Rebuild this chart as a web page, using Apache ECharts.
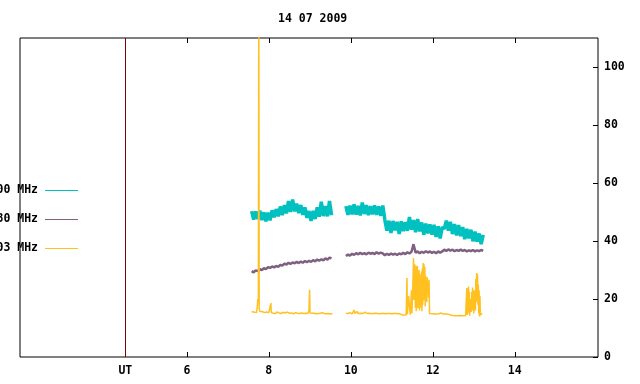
<!DOCTYPE html>
<html>
<head>
<meta charset="utf-8">
<script src="https://cdn.jsdelivr.net/npm/echarts@6/dist/echarts.min.js"></script>
<style>
  html, body { margin: 0; padding: 0; background: #fff; }
  #chart { width: 640px; height: 384px; }
</style>
</head>
<body>
<div id="chart"></div>
<script>
'use strict';

// --- Data (UT hours, values) ---
var TITLE = '14 07 2009';
var SERIES_NAMES = ['00 MHz', '80 MHz', '03 MHz'];
var X_TICKS = [6, 8, 10, 12, 14];
var X_LABELS = [4.5, 6, 8, 10, 12, 14];
var UT_MARK = 4.5;
var Y_TICKS = [0, 20, 40, 60, 80, 100];

// teal + purple share one sampling grid, null = no data
var GRID_T0 = 7.58;
var GRID_STEP = 0.05;

var teal = [
  50.3, 47.4, 50.2, 47.6, 50.5, 47.2, 49.9, 46.8, 49.8, 47.1,
  50.6, 48.2, 51.0, 48.5, 51.9, 48.9, 52.4, 49.5, 53.8, 50.0,
  54.3, 50.2, 52.9, 49.6, 52.4, 49.0, 51.6, 48.0, 50.3, 46.9,
  50.4, 47.6, 51.6, 48.4, 53.5, 48.6, 52.0, 48.5, 53.8, 48.9,
  null, null, null, null, null, null,
  52.0, 49.0, 52.2, 49.2, 52.6, 49.1, 52.1, 48.8, 53.3, 49.3,
  52.4, 48.9, 52.0, 49.2, 52.3, 49.0, 51.9, 48.7, 52.2,
  47.3, 43.6, 47.0, 42.8, 46.9, 43.7, 46.6, 42.4, 46.8, 43.4,
  46.5, 43.5, 48.3, 43.9, 47.2, 43.0, 47.6, 43.3, 46.4, 42.2,
  46.0, 42.6, 45.7, 42.2, 45.6, 41.4, 45.1, 40.9, 44.8, 44.2,
  47.0, 43.6, 46.6, 42.4, 45.8, 41.9, 45.5, 41.7, 44.8, 40.6,
  44.2, 40.9, 43.9, 39.9, 43.2, 39.8, 42.6, 38.9, 42.1
];

var purple = [
  29.6, 29.2, 29.9, 29.6, 30.3, 30.0, 30.6, 30.3, 31.0, 30.7,
  31.2, 30.9, 31.4, 31.1, 31.8, 31.5, 32.2, 31.9, 32.5, 32.1,
  32.6, 32.3, 32.8, 32.4, 32.9, 32.5, 33.1, 32.7, 33.2, 32.8,
  33.4, 33.0, 33.6, 33.2, 33.7, 33.3, 34.0, 33.6, 34.3, 34.0,
  null, null, null, null, null, null,
  34.8, 35.3, 35.0, 35.6, 35.2, 35.8, 35.4, 35.9, 35.5, 35.8,
  35.4, 36.0, 35.6, 35.9, 35.5, 36.1, 35.6, 36.0, 35.7,
  35.1, 35.6, 35.2, 35.7, 35.3, 35.6, 35.2, 35.7, 35.4, 35.9,
  35.5, 36.1, 35.7, 36.3, 38.9, 36.0, 36.4, 35.8, 36.3, 35.9,
  36.5, 36.0, 36.4, 35.9, 36.3, 35.8, 36.4, 36.0, 36.4, 37.0,
  36.6, 37.1, 36.7, 37.0, 36.5, 36.9, 36.6, 37.0, 36.6, 36.9,
  36.4, 36.8, 36.5, 36.9, 36.4, 36.8, 36.5, 36.9, 36.6
];

// yellow has its own [t, v] samples (spiky)
var yellow = [
  [7.58, 15.6], [7.60, 15.0], [7.63, 15.5], [7.66, 15.1], [7.70, 15.3], [7.72, 17.5],
  [7.73, 20.0], [7.745, 19.0], [7.755, 125], [7.765, 16.5], [7.78, 15.8], [7.80, 15.2],
  [7.85, 15.6], [7.90, 15.3], [7.95, 15.5], [8.00, 15.3], [8.04, 15.4], [8.05, 18.6],
  [8.06, 15.3], [8.10, 15.2], [8.15, 14.9], [8.20, 15.5], [8.25, 15.2], [8.30, 15.0],
  [8.35, 15.4], [8.40, 15.2], [8.45, 15.5], [8.50, 15.1], [8.55, 15.2], [8.60, 14.9],
  [8.65, 15.3], [8.70, 15.1], [8.75, 15.0], [8.80, 15.2], [8.85, 15.0], [8.90, 15.1],
  [8.95, 15.0], [8.98, 16.0], [8.995, 23.2], [9.005, 15.2], [9.05, 15.0], [9.10, 15.1],
  [9.15, 14.9], [9.20, 15.0], [9.25, 15.0], [9.30, 15.3], [9.35, 15.0], [9.40, 14.9],
  [9.45, 15.0], [9.50, 14.8], [9.55, 15.0], [9.70, null],
  [9.88, 15.1], [9.93, 15.0], [9.98, 15.3], [10.03, 14.9], [10.08, 16.2], [10.10, 15.0],
  [10.15, 15.7], [10.18, 15.0], [10.25, 15.1], [10.30, 15.0], [10.35, 15.5], [10.40, 15.0],
  [10.45, 15.1], [10.50, 14.9], [10.55, 15.0], [10.60, 15.1], [10.65, 15.0], [10.70, 14.9],
  [10.75, 15.0], [10.80, 15.0], [10.85, 14.9], [10.90, 15.0], [10.95, 15.0], [11.00, 14.9],
  [11.05, 15.0], [11.10, 15.0], [11.15, 14.9], [11.20, 14.9], [11.25, 14.5], [11.30, 14.5],
  [11.35, 14.5], [11.36, 14.6], [11.37, 27.2], [11.38, 14.8], [11.40, 14.6], [11.41, 21.0],
  [11.44, 21.0], [11.45, 14.6], [11.47, 14.6], [11.48, 23.0], [11.49, 15.0], [11.52, 15.0],
  [11.525, 30.5], [11.53, 34.1], [11.54, 19.7], [11.55, 32.0], [11.56, 22.0], [11.565, 31.8],
  [11.575, 17.0], [11.585, 30.5], [11.595, 15.8], [11.605, 31.5], [11.615, 20.0], [11.625, 31.3],
  [11.635, 16.8], [11.645, 29.0], [11.655, 20.5], [11.665, 30.0], [11.675, 16.0], [11.685, 28.5],
  [11.695, 19.0], [11.705, 27.0], [11.715, 17.0], [11.725, 29.5], [11.735, 15.8], [11.745, 30.5],
  [11.755, 18.0], [11.765, 32.4], [11.775, 19.5], [11.785, 32.0], [11.795, 21.0], [11.805, 31.0],
  [11.815, 17.5], [11.825, 28.0], [11.835, 20.5], [11.845, 26.6], [11.855, 19.0], [11.865, 27.5],
  [11.875, 22.0], [11.885, 26.0], [11.90, 20.5], [11.91, 26.6], [11.92, 15.0], [11.93, 14.8],
  [11.96, 14.8], [12.00, 14.9], [12.05, 14.8], [12.08, 15.3], [12.10, 14.8], [12.15, 14.9],
  [12.20, 15.2], [12.25, 14.8], [12.30, 14.8], [12.35, 14.8], [12.40, 14.7], [12.45, 14.4],
  [12.50, 14.3], [12.55, 14.2], [12.60, 14.2], [12.65, 14.3], [12.70, 14.2], [12.75, 14.2],
  [12.80, 14.3], [12.82, 14.0], [12.83, 23.8], [12.84, 14.5], [12.85, 22.0], [12.86, 15.0],
  [12.87, 24.3], [12.88, 16.0], [12.89, 22.5], [12.90, 14.2], [12.91, 20.0], [12.92, 16.5],
  [12.93, 18.7], [12.94, 15.5], [12.95, 22.5], [12.96, 17.0], [12.97, 24.0], [12.98, 16.0],
  [12.99, 21.0], [13.00, 15.0], [13.01, 23.0], [13.02, 17.5], [13.03, 21.0], [13.04, 16.0],
  [13.05, 27.0], [13.06, 19.0], [13.07, 29.0], [13.08, 20.0], [13.09, 28.5], [13.10, 18.0],
  [13.11, 25.0], [13.12, 15.0], [13.13, 23.0], [13.14, 14.0], [13.15, 21.0], [13.16, 14.5],
  [13.18, 15.0], [13.20, 14.8], [13.21, 15.0]
];

var COLORS = ['#00c0c0', '#806080', '#ffc020'];
var FONT = 'DejaVu Sans Mono';

// --- helpers ---
function onGrid(vals) {
  var out = [];
  for (var i = 0; i < vals.length; i++) {
    out.push([GRID_T0 + i * GRID_STEP, vals[i]]);
  }
  return out;
}

function legendItem(i, y) {
  return [
    { type: 'text', x: 38, y: y, style: { text: SERIES_NAMES[i], align: 'right', verticalAlign: 'middle',
      font: 'bold 11.5px ' + FONT, fill: '#000' } },
    { type: 'line', shape: { x1: 45, y1: y + 0.5, x2: 78, y2: y + 0.5 }, style: { stroke: COLORS[i], lineWidth: 1 } }
  ];
}

var chart = echarts.init(document.getElementById('chart'), null, { renderer: 'canvas' });

var textStyle = { fontFamily: FONT, fontSize: 11.5, fontWeight: 'bold', color: '#000' };

var option = {
  animation: false,
  backgroundColor: '#fff',
  title: { text: TITLE, left: 273, top: 8, textStyle: textStyle },
  grid: { left: 20, right: 42, top: 38, bottom: 27, show: true, borderColor: '#000', borderWidth: 1 },
  xAxis: [
    {
      type: 'value', min: 1.93, max: 16.03, position: 'bottom',
      axisLine: { show: false }, splitLine: { show: false },
      axisTick: { inside: true, length: 5, lineStyle: { color: '#000' }, customValues: X_TICKS },
      axisLabel: {
        customValues: X_LABELS, margin: 8,
        fontFamily: FONT, fontSize: 11.5, fontWeight: 'bold', color: '#000',
        formatter: function(v) { return v === UT_MARK ? '{ut|UT}' : String(v); },
        rich: { ut: { fontFamily: FONT, fontSize: 11.5, fontWeight: 'bold', color: '#000', padding: [0, 0, 6, 0] } }
      }
    },
    {
      type: 'value', min: 1.93, max: 16.03, position: 'top',
      axisLine: { show: false }, splitLine: { show: false }, axisLabel: { show: false },
      axisTick: { inside: true, length: 5, lineStyle: { color: '#000' }, customValues: X_TICKS }
    }
  ],
  yAxis: {
    type: 'value', min: 0, max: 110, position: 'right',
    axisLine: { show: false }, splitLine: { show: false },
    axisTick: { show: true, inside: true, length: 5, lineStyle: { color: '#000' }, customValues: Y_TICKS },
    axisLabel: { customValues: Y_TICKS, margin: 6, fontFamily: FONT, fontSize: 11.5, fontWeight: 'bold', color: '#000' }
  },
  graphic: legendItem(0, 190).concat(legendItem(1, 219), legendItem(2, 248)),
  series: [
    {
      name: SERIES_NAMES[0], type: 'line', data: onGrid(teal), symbol: 'none',
      lineStyle: { color: COLORS[0], width: 3.5 }, silent: true,
      markLine: {
        silent: true, symbol: 'none', label: { show: false },
        lineStyle: { color: '#800000', width: 1, type: 'solid' },
        data: [{ xAxis: UT_MARK }]
      }
    },
    {
      name: SERIES_NAMES[1], type: 'line', data: onGrid(purple), symbol: 'none',
      lineStyle: { color: COLORS[1], width: 2.5 }, silent: true
    },
    {
      name: SERIES_NAMES[2], type: 'line', data: yellow, symbol: 'none',
      lineStyle: { color: COLORS[2], width: 1.5 }, silent: true
    }
  ]
};

chart.setOption(option);
</script>
</body>
</html>
